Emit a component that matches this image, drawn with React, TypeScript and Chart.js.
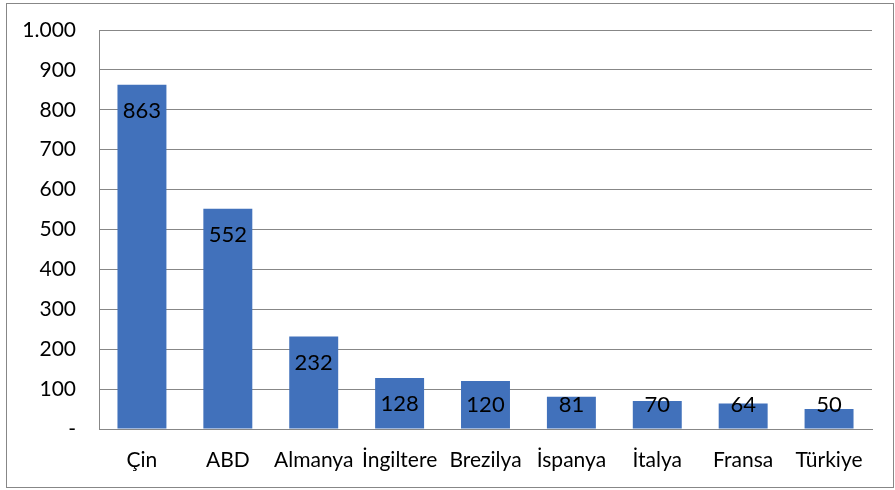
import React, { useEffect, useRef } from "react";
import { Chart, registerables } from "chart.js";

Chart.register(...registerables);

const categories = ["Çin", "ABD", "Almanya", "İngiltere", "Brezilya", "İspanya", "İtalya", "Fransa", "Türkiye"];
const values = [863, 552, 232, 128, 120, 81, 70, 64, 50];
const yTickMax = 1000;
const yTickStep = 100;

const FONT = "Lato, 'Open Sans', sans-serif";

function formatTick(v: number): string {
  if (v === 0) return "-";
  const s = String(Math.round(v));
  return s.replace(/\B(?=(\d{3})+(?!\d))/g, ".");
}

const borderPlugin = {
  id: "outerBorder",
  beforeDraw(chart: any) {
    const ctx = chart.ctx;
    ctx.save();
    ctx.fillStyle = "#ffffff";
    ctx.fillRect(0, 0, chart.width, chart.height);
    ctx.strokeStyle = "#878787";
    ctx.lineWidth = 1;
    ctx.strokeRect(6.5, 3.5, 887, 484);
    ctx.restore();
  },
};

const labelPlugin = {
  id: "barLabels",
  afterDatasetsDraw(chart: any) {
    const ctx = chart.ctx;
    const meta = chart.getDatasetMeta(0);
    const ds = chart.data.datasets[0];
    ctx.save();
    ctx.font = `22px ${FONT}`;
    ctx.fillStyle = "#000000";
    ctx.textAlign = "center";
    ctx.textBaseline = "middle";
    meta.data.forEach((bar: any, i: number) => {
      const base = bar.base;
      const cy = Math.min(bar.y + 26, base - 24);
      ctx.fillText(String(ds.data[i]), bar.x, cy);
    });
    ctx.restore();
  },
};

export default function App() {
  const ref = useRef<HTMLCanvasElement | null>(null);

  useEffect(() => {
    if (!ref.current) return;
    const chart = new Chart(ref.current, {
      type: "bar",
      data: {
        labels: categories,
        datasets: [
          {
            data: values,
            backgroundColor: "#4171BB",
            borderWidth: 0,
            barPercentage: 0.57,
            categoryPercentage: 1,
          },
        ],
      },
      options: {
        animation: false,
        responsive: false,
        maintainAspectRatio: false,
        layout: { padding: { left: 0, top: 30, right: 23, bottom: 0 } },
        plugins: {
          legend: { display: false },
          tooltip: { enabled: false },
        },
        scales: {
          x: {
            grid: { display: false, drawTicks: false },
            border: { display: true, color: "#878787", width: 1 },
            ticks: {
              color: "#000000",
              font: { family: FONT, size: 21 },
              padding: 19,
              maxRotation: 0,
              autoSkip: false,
            },
            afterFit(scale: any) {
              scale.height = 61;
              scale.paddingLeft = 0;
              scale.paddingRight = 0;
            },
          },
          y: {
            min: 0,
            max: yTickMax,
            grid: { color: "#878787", lineWidth: 1, drawTicks: false },
            border: { display: true, color: "#878787", width: 1 },
            ticks: {
              stepSize: yTickStep,
              color: "#000000",
              font: { family: FONT, size: 21 },
              padding: 23,
              callback: (v: any) => formatTick(Number(v)),
            },
            afterFit(scale: any) {
              scale.width = 99;
              scale.paddingTop = 0;
              scale.paddingBottom = 0;
            },
          },
        },
      },
      plugins: [borderPlugin, labelPlugin],
    });
    return () => chart.destroy();
  }, []);

  return (
    <div style={{ position: "absolute", left: 0, top: 0, width: 895, height: 490 }}>
      <canvas ref={ref} width={895} height={490} style={{ width: 895, height: 490 }} />
    </div>
  );
}
